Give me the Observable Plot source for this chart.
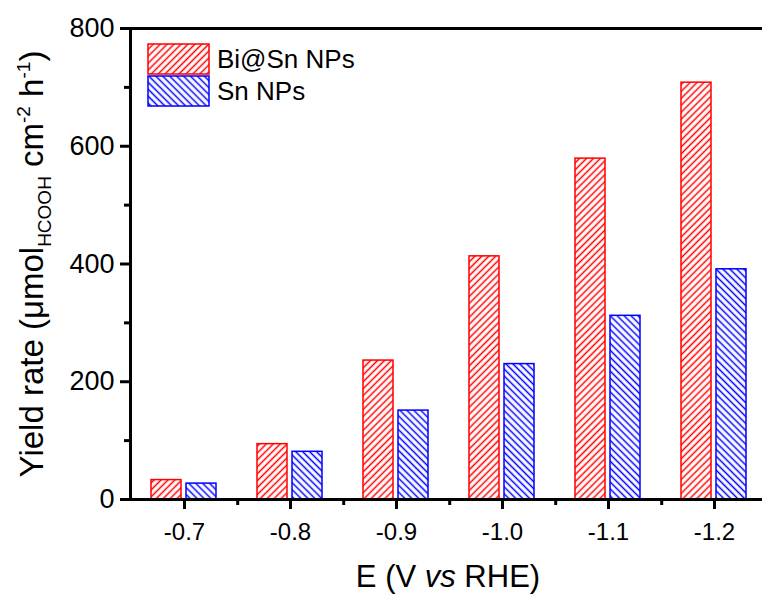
<!DOCTYPE html>
<html>
<head>
<meta charset="utf-8">
<script src="https://cdn.jsdelivr.net/npm/d3@7"></script>
<script src="https://cdn.jsdelivr.net/npm/@observablehq/plot@0.6"></script>
<style>
  html, body { margin: 0; padding: 0; background: white; overflow: hidden; }
  svg { overflow: hidden; display: block; }
</style>
</head>
<body>
<div id="chart"></div>
<script>
// ---- data ----
const categories = ["-0.7", "-0.8", "-0.9", "-1.0", "-1.1", "-1.2"];
const biSnValues = [33, 94, 236, 413, 579, 708];
const snValues = [27, 81, 151, 230, 312, 391];
const seriesNames = ["Bi@Sn NPs", "Sn NPs"];
const yTicks = [0, 200, 400, 600, 800];
const yMinorTicks = [100, 300, 500, 700];

const biSnRows = categories.map((E, i) => ({E, series: seriesNames[0], value: biSnValues[i]}));
const snRows = categories.map((E, i) => ({E, series: seriesNames[1], value: snValues[i]}));

const RED = "#ff0000";
const BLUE = "#0000ff";
const FONT = "Liberation Sans, Arial, Helvetica, sans-serif";

const chart = Plot.plot({
  width: 762,
  height: 594,
  marginLeft: 130,
  marginRight: -1,
  marginTop: 28,
  marginBottom: 95,
  style: {fontFamily: FONT, fontSize: "25px", background: "white", color: "black"},
  x: {domain: categories, range: [130, 768], padding: 0, label: null},
  y: {domain: [0, 800], label: null},
  marks: [
    Plot.barY(biSnRows, {x: "E", y: "value", fill: "url(#hatchRed)", stroke: RED, strokeWidth: 1.5, insetLeft: 20, insetRight: 56}),
    Plot.barY(snRows, {x: "E", y: "value", fill: "url(#hatchBlue)", stroke: BLUE, strokeWidth: 1.5, insetLeft: 55, insetRight: 21}),
    Plot.frame({stroke: "black", strokeWidth: 3}),
    Plot.axisY({ticks: yTicks, tickSize: 10, tickPadding: 6, strokeWidth: 3, fontSize: 27, label: null}),
    Plot.axisY({ticks: yMinorTicks, tickSize: 6, strokeWidth: 3, text: null, label: null}),
    Plot.axisX({tickSize: 10, tickPadding: 13, strokeWidth: 3, fontSize: 24, label: null}),
    Plot.axisX({tickSize: 6, strokeWidth: 3, text: null, dx: 53.2, label: null})
  ]
});

document.getElementById("chart").appendChild(chart);

const svg = d3.select(chart);
svg.selectAll('g[aria-label="y-axis tick label"] text').style("font-size", "27px");
svg.selectAll('g[aria-label="x-axis tick label"] text').style("font-size", "24px");

// hatch patterns
const defs = svg.insert("defs", ":first-child");
function hatch(id, color, angle) {
  const s = 4.9;
  const p = defs.append("pattern")
    .attr("id", id)
    .attr("patternUnits", "userSpaceOnUse")
    .attr("width", s).attr("height", s)
    .attr("patternTransform", `rotate(${angle})`);
  p.append("rect").attr("width", s).attr("height", s).attr("fill", "white");
  p.append("line").attr("x1", s / 2).attr("x2", s / 2).attr("y1", 0).attr("y2", s)
    .attr("stroke", color).attr("stroke-width", 1.5);
}
hatch("hatchRed", RED, 45);
hatch("hatchBlue", BLUE, -45);

// legend
const legend = svg.append("g").attr("font-family", FONT).attr("font-size", 26).attr("text-anchor", "start");
[[seriesNames[0], "url(#hatchRed)", RED, 44], [seriesNames[1], "url(#hatchBlue)", BLUE, 76]].forEach(([name, fill, stroke, y]) => {
  legend.append("rect").attr("x", 148).attr("y", y).attr("width", 61).attr("height", 30)
    .attr("fill", fill).attr("stroke", stroke).attr("stroke-width", 1.5);
  legend.append("text").attr("x", 217).attr("y", y + 24).attr("fill", "black").attr("text-anchor", "start").text(name);
});

// x title
const xt = svg.append("text").attr("x", 448).attr("y", 587)
  .attr("text-anchor", "middle").attr("font-family", FONT).attr("font-size", 31).attr("fill", "black");
xt.append("tspan").text("E (V ");
xt.append("tspan").attr("font-style", "italic").text("vs");
xt.append("tspan").text(" RHE)");

// y title
const yt = svg.append("text").attr("transform", "translate(43,264) rotate(-90)")
  .attr("text-anchor", "middle").attr("font-family", FONT).attr("font-size", 33).attr("fill", "black");
yt.append("tspan").text("Yield rate (μmol");
yt.append("tspan").attr("font-size", 19).attr("dy", 8).text("HCOOH");
yt.append("tspan").attr("dy", -8).text(" cm");
yt.append("tspan").attr("font-size", 19).attr("dy", -13).text("-2");
yt.append("tspan").attr("dy", 13).text(" h");
yt.append("tspan").attr("font-size", 19).attr("dy", -13).text("-1");
yt.append("tspan").attr("dy", 13).text(")");
</script>
</body>
</html>
